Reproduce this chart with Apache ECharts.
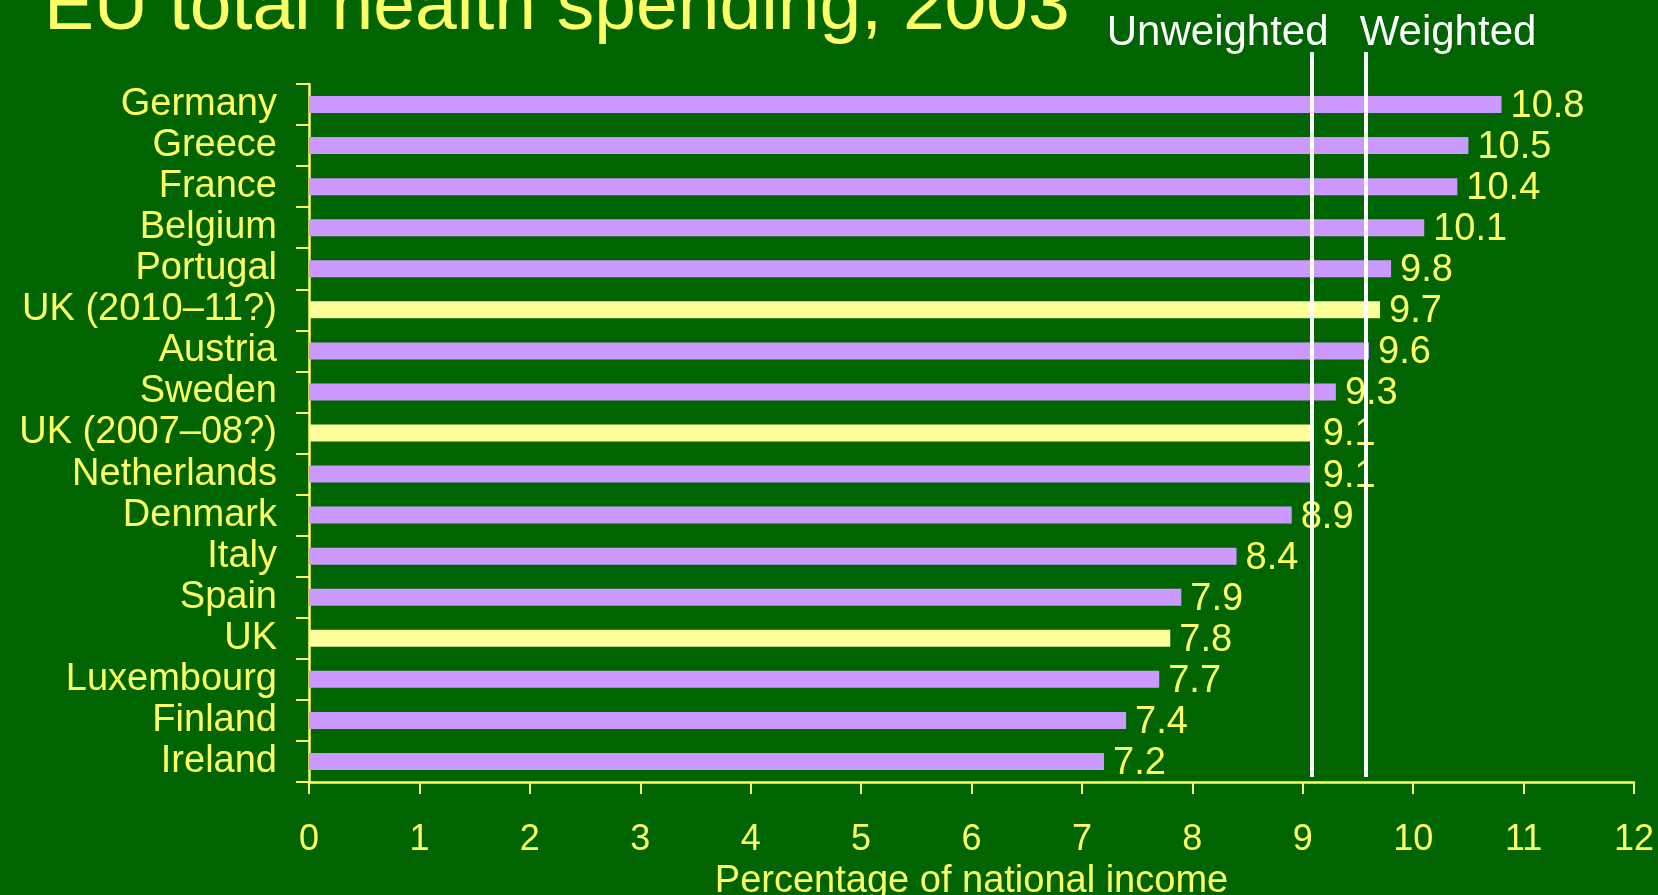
<!DOCTYPE html>
<html>
<head>
<meta charset="utf-8">
<script src="https://cdn.jsdelivr.net/npm/echarts@6/dist/echarts.min.js"></script>
<style>
  html, body { margin: 0; padding: 0; background: #006400; }
  #chart { width: 1658px; height: 895px; }
</style>
</head>
<body>
<div id="chart"></div>
<script>
// ---- data ----
var titleText = 'EU total health spending, 2003';
var axisName = 'Percentage of national income';
var categories = ['Germany', 'Greece', 'France', 'Belgium', 'Portugal', 'UK (2010–11?)', 'Austria', 'Sweden',
  'UK (2007–08?)', 'Netherlands', 'Denmark', 'Italy', 'Spain', 'UK', 'Luxembourg', 'Finland', 'Ireland'];
var values = [10.8, 10.5, 10.4, 10.1, 9.8, 9.7, 9.6, 9.3, 9.1, 9.1, 8.9, 8.4, 7.9, 7.8, 7.7, 7.4, 7.2];
var ukRows = ['UK (2010–11?)', 'UK (2007–08?)', 'UK'];
var refNames = ['Unweighted', 'Weighted'];
var refValues = [9.08, 9.57];
var xTicks = [0, 1, 2, 3, 4, 5, 6, 7, 8, 9, 10, 11, 12];

// ---- styles ----
var BG = '#006400';
var YEL = '#FFFF66';
var PURPLE = '#CC99FF';
var UKBAR = '#FFFF99';
var FONT = '"Liberation Sans", Arial, sans-serif';

var chart = echarts.init(document.getElementById('chart'));

var barData = categories.map(function (c, i) {
  return {
    value: values[i],
    itemStyle: { color: ukRows.indexOf(c) >= 0 ? UKBAR : PURPLE }
  };
});

var option = {
  backgroundColor: BG,
  animation: false,
  title: {
    text: titleText,
    left: 44,
    top: -29,
    padding: 0,
    textStyle: { color: YEL, fontSize: 75, fontWeight: 'normal', fontFamily: FONT }
  },
  grid: { left: 309, right: 24, top: 84, bottom: 113, containLabel: false, outerBoundsMode: 'none' },
  xAxis: {
    type: 'value',
    min: xTicks[0],
    max: xTicks[xTicks.length - 1],
    interval: xTicks[1] - xTicks[0],
    name: axisName,
    nameLocation: 'middle',
    nameGap: 71,
    nameTextStyle: { color: YEL, fontSize: 38, fontFamily: FONT },
    axisLine: { show: true, lineStyle: { color: YEL, width: 2.5 } },
    axisTick: { show: true, length: 12, lineStyle: { color: YEL, width: 2 } },
    axisLabel: { color: YEL, fontSize: 36, fontFamily: FONT, margin: 40 },
    splitLine: { show: false }
  },
  yAxis: {
    type: 'category',
    inverse: true,
    data: categories,
    axisLine: { show: true, lineStyle: { color: YEL, width: 2.5 } },
    axisTick: { show: true, length: 13, alignWithLabel: false, interval: 0, lineStyle: { color: YEL, width: 2 } },
    axisLabel: { color: YEL, fontSize: 38, fontFamily: FONT, margin: 32, interval: 0, padding: [4, 0, 0, 0] },
    splitLine: { show: false }
  },
  series: [{
    type: 'bar',
    data: barData,
    barWidth: 17,
    label: {
      show: true,
      position: 'right',
      distance: 9,
      offset: [0, 2],
      color: YEL,
      fontSize: 38,
      fontFamily: FONT,
      formatter: function (p) { return p.value.toFixed(1); }
    },
    markLine: {
      silent: true,
      symbol: 'none',
      animation: false,
      label: { show: false },
      lineStyle: { color: '#FFFFFF', width: 4, type: 'solid' },
      data: refValues.map(function (v) {
        return [{ xAxis: v, y: 52 }, { xAxis: v, y: 777 }];
      })
    },
    z: 2
  }]
};

chart.setOption(option);

// reference line captions positioned from the axis scale
var px0 = chart.convertToPixel({ xAxisIndex: 0 }, refValues[0]);
var px1 = chart.convertToPixel({ xAxisIndex: 0 }, refValues[1]);
chart.setOption({
  graphic: [
    {
      type: 'text', x: px0 + 17, y: 33,
      style: { text: refNames[0], fill: '#FFFFFF', fontSize: 42, fontFamily: FONT, align: 'right', verticalAlign: 'middle' }
    },
    {
      type: 'text', x: px1 - 6, y: 33,
      style: { text: refNames[1], fill: '#FFFFFF', fontSize: 42, fontFamily: FONT, align: 'left', verticalAlign: 'middle' }
    }
  ]
});
</script>
</body>
</html>
